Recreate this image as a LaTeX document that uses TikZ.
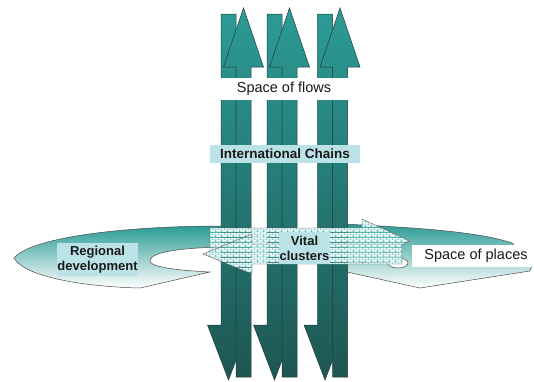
\documentclass[tikz,border=0pt]{standalone}
\usepackage{fontspec}
\setmainfont{Liberation Sans}
\usetikzlibrary{patterns.meta}
\definecolor{tealtop}{RGB}{44,155,149}
\definecolor{tealbot}{RGB}{30,86,82}
\definecolor{labelbg}{RGB}{187,227,231}
\definecolor{brickbg}{RGB}{122,202,198}
\definecolor{edgec}{RGB}{35,60,58}
\definecolor{txt}{RGB}{25,25,25}

\tikzdeclarepattern{
  name=minibricks,
  type=colored,
  bounding box={(0pt,0pt) and (6pt,5pt)},
  tile size={(6pt,5pt)},
  code={
    \fill[brickbg] (0pt,0pt) rectangle (6pt,5pt);
    \fill[white] (0.5pt,0.4pt) rectangle (5.5pt,2.1pt);
    \fill[white] (3.5pt,2.9pt) rectangle (6pt,4.6pt);
    \fill[white] (0pt,2.9pt) rectangle (2.5pt,4.6pt);
  }
}

\begin{document}
\begin{tikzpicture}[x=1pt,y=-1pt,
  flowarrow/.style={top color=tealtop, bottom color=tealbot, draw=edgec, line width=0.5pt},
  ringshape/.style={top color=tealtop, middle color=tealtop!30!white, bottom color=white, draw=gray!60!black, line width=0.5pt},
  pattarrow/.style={pattern=minibricks, draw=gray!70!black, line width=0.4pt},
  bigtext/.style={font=\fontsize{14.5}{17}\selectfont, text=txt, inner sep=0pt},
  boxlabel/.style={fill=labelbg, font=\bfseries\fontsize{13}{15}\selectfont, text=txt, inner sep=0pt, align=center}
]
\useasboundingbox (0,0) rectangle (534,381);

% ring shapes (behind the vertical arrows)
\draw[ringshape] (222,226) .. controls (120,226) and (30,238) .. (14,258)
  .. controls (25,278) and (90,287) .. (140,288) -- (210,272)
  .. controls (170,270) and (148,266) .. (150,260)
  .. controls (152,252) and (180,248) .. (222,247) -- cycle;
\draw[ringshape] (345,224) -- (362,225) .. controls (420,228) and (480,232) .. (512,243)
  -- (533,263) -- (530,271) -- (420,288) -- (347,272) -- cycle;
\draw[draw=gray!60!black, fill=white, line width=0.5pt] (398,263) ellipse [x radius=10, y radius=5];

% vertical arrows: down arrows then up arrows
\foreach \d/\c in {228.5/243.5, 274.5/289.5, 325/340}{
  \draw[flowarrow] (\d-7.5,14) -- (\d+7.5,14) -- (\d+7.5,325) -- (\d+21,325)
    -- (\d,380) -- (\d-21,325) -- (\d-7.5,325) -- cycle;
  \draw[flowarrow] (\c-7.5,377) -- (\c-7.5,67) -- (\c-20,67) -- (\c,8)
    -- (\c+20,67) -- (\c+7.5,67) -- (\c+7.5,377) -- cycle;
}

\node[bigtext, fill=white, minimum width=136, minimum height=22] (flows) at (284,89) {Space of flows};
\node[boxlabel, font=\bfseries\fontsize{13.5}{15}\selectfont, minimum width=150, minimum height=18] (chains) at (285,154) {International Chains};

% patterned arrows
\draw[pattarrow] (210,228) -- (362,228) -- (362,219) -- (410,241) -- (362,263)
  -- (362,254) -- (210,254) -- cycle;
\draw[pattarrow] (402,244) -- (252,244) -- (252,234) -- (203,254) -- (252,274)
  -- (252,264) -- (402,264) -- cycle;

\node[boxlabel, minimum width=51, minimum height=32] (vital) at (304.5,248) {Vital\\clusters};
\node[boxlabel, minimum width=81, minimum height=33] (regional) at (97.5,259.5) {Regional\\development};
\node[bigtext, fill=white, minimum width=128, minimum height=22] (places) at (476,256) {Space of places};
\end{tikzpicture}
\end{document}
